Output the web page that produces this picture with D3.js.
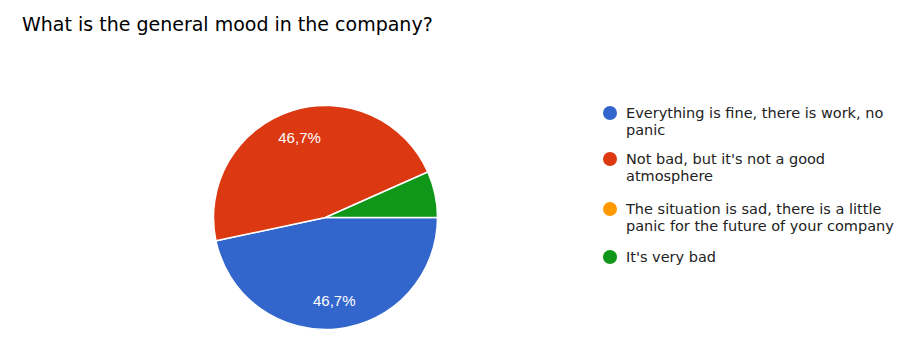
<!DOCTYPE html>
<html><head><meta charset="utf-8">
<script src="https://cdn.jsdelivr.net/npm/d3@7"></script>
<style>html,body{margin:0;padding:0;background:#fff;}</style>
</head><body>
<svg id="chart" width="913" height="354"></svg>
<script>
const title = "What is the general mood in the company?";
const categories = [
  "Everything is fine, there is work, no panic",
  "Not bad, but it's not a good atmosphere",
  "The situation is sad, there is a little panic for the future of your company",
  "It's very bad"
];
const legendLines = [
  ["Everything is fine, there is work, no", "panic"],
  ["Not bad, but it's not a good", "atmosphere"],
  ["The situation is sad, there is a little", "panic for the future of your company"],
  ["It's very bad"]
];
const counts = [7, 7, 0, 1];
const colors = ["#3366cc", "#dc3912", "#ff9900", "#109618"];

const svg = d3.select("#chart");
svg.append("text").attr("x", 22).attr("y", 31)
  .attr("font-family", "DejaVu Sans").attr("font-size", 19).attr("fill", "#000")
  .text(title);

const cx = 325.5, cy = 217.5, R = 112;
const total = d3.sum(counts);
const pie = d3.pie().sort(null).value(d => d)
  .startAngle(Math.PI / 2).endAngle(Math.PI / 2 + 2 * Math.PI);
const arcs = pie(counts);
const arc = d3.arc().innerRadius(0).outerRadius(R);
const labelArc = d3.arc().innerRadius(R * 0.75).outerRadius(R * 0.75);
const g = svg.append("g").attr("transform", `translate(${cx},${cy})`);
g.selectAll("path").data(arcs).join("path")
  .attr("d", arc).attr("fill", (d, i) => colors[i])
  .attr("stroke", "#fff").attr("stroke-width", 1.5)
  .attr("display", d => d.data > 0 ? null : "none");
const fmt = v => (v * 100).toFixed(1).replace(".", ",") + "%";
g.selectAll("text").data(arcs.filter(d => d.data / total > 0.1)).join("text")
  .attr("transform", d => `translate(${labelArc.centroid(d)})`)
  .attr("text-anchor", "middle").attr("dy", "0.35em")
  .attr("font-family", "Liberation Sans, Arial").attr("font-size", 15)
  .attr("fill", "#fff")
  .text(d => fmt(d.data / total));

const legendY = [113, 159, 209, 257];
const lg = svg.append("g");
categories.forEach((c, i) => {
  lg.append("circle").attr("cx", 610).attr("cy", legendY[i]).attr("r", 7).attr("fill", colors[i]);
  const t = lg.append("text").attr("x", 626).attr("y", legendY[i] + 5)
    .attr("font-family", "DejaVu Sans").attr("font-size", 14.5).attr("fill", "#222");
  legendLines[i].forEach((l, j) => {
    t.append("tspan").attr("x", 626).attr("dy", j === 0 ? 0 : 17).text(l);
  });
});
</script>
</body></html>
